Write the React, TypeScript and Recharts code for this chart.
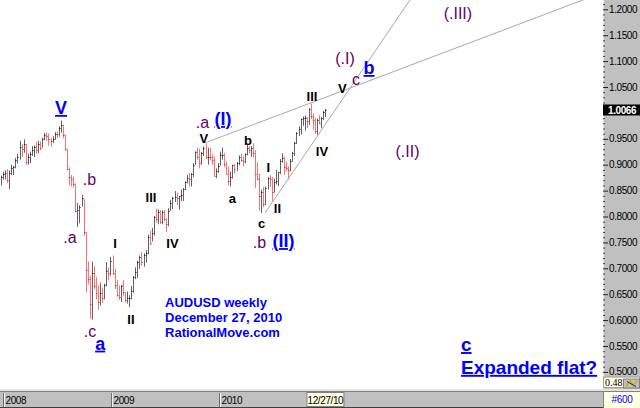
import React from 'react';
import { ComposedChart, Bar, XAxis, YAxis, ReferenceLine, ReferenceDot } from 'recharts';

// Weekly AUDUSD bars, first bar = week of 24 Dec 2007, last = week of 27 Dec 2010
const highs = [
  0.879, 0.886, 0.889, 0.891, 0.889, 0.900, 0.898, 0.913, 0.921, 0.946,
  0.940, 0.949, 0.940, 0.921, 0.925, 0.936, 0.937, 0.944, 0.946, 0.945,
  0.952, 0.961, 0.962, 0.960, 0.952, 0.955, 0.963, 0.964, 0.974, 0.985,
  0.977, 0.958, 0.931, 0.895, 0.880, 0.877, 0.864, 0.826, 0.822, 0.842,
  0.834, 0.770, 0.713, 0.685, 0.713, 0.704, 0.683, 0.667, 0.672, 0.663,
  0.670, 0.712, 0.701, 0.722, 0.725, 0.699, 0.677, 0.667, 0.668, 0.677,
  0.654, 0.655, 0.648, 0.666, 0.685, 0.702, 0.715, 0.725, 0.731, 0.729,
  0.735, 0.765, 0.772, 0.778, 0.801, 0.815, 0.814, 0.812, 0.812, 0.813,
  0.797, 0.816, 0.832, 0.838, 0.849, 0.846, 0.840, 0.852, 0.855, 0.868,
  0.880, 0.884, 0.884, 0.903, 0.926, 0.933, 0.931, 0.925, 0.935, 0.941,
  0.933, 0.933, 0.920, 0.916, 0.893, 0.903, 0.925, 0.933, 0.922, 0.906,
  0.896, 0.887, 0.900, 0.901, 0.905, 0.918, 0.921, 0.916, 0.922, 0.940,
  0.936, 0.936, 0.941, 0.928, 0.905, 0.883, 0.852, 0.857, 0.858, 0.876,
  0.880, 0.876, 0.873, 0.890, 0.886, 0.911, 0.922, 0.916, 0.906, 0.897,
  0.911, 0.925, 0.944, 0.963, 0.974, 0.989, 0.993, 0.995, 0.992, 1.009,
  1.018, 0.999, 0.991, 0.989, 0.996, 0.992, 1.004, 1.008,
];
const lows = [
  0.860, 0.871, 0.872, 0.864, 0.853, 0.880, 0.880, 0.893, 0.903, 0.910,
  0.915, 0.923, 0.900, 0.900, 0.903, 0.917, 0.915, 0.921, 0.922, 0.928,
  0.933, 0.947, 0.946, 0.937, 0.935, 0.942, 0.948, 0.952, 0.954, 0.962,
  0.951, 0.927, 0.890, 0.860, 0.858, 0.856, 0.808, 0.780, 0.787, 0.819,
  0.763, 0.653, 0.669, 0.603, 0.601, 0.660, 0.640, 0.620, 0.628, 0.633,
  0.640, 0.665, 0.677, 0.686, 0.687, 0.660, 0.645, 0.639, 0.635, 0.647,
  0.634, 0.632, 0.625, 0.640, 0.653, 0.679, 0.681, 0.699, 0.705, 0.703,
  0.711, 0.727, 0.745, 0.752, 0.763, 0.789, 0.785, 0.786, 0.785, 0.791,
  0.770, 0.781, 0.811, 0.814, 0.828, 0.822, 0.813, 0.830, 0.830, 0.851,
  0.864, 0.858, 0.858, 0.876, 0.900, 0.910, 0.893, 0.900, 0.917, 0.911,
  0.900, 0.908, 0.900, 0.878, 0.874, 0.884, 0.898, 0.910, 0.895, 0.882,
  0.860, 0.858, 0.873, 0.883, 0.888, 0.899, 0.906, 0.897, 0.903, 0.918,
  0.922, 0.915, 0.914, 0.855, 0.870, 0.811, 0.807, 0.818, 0.822, 0.852,
  0.857, 0.830, 0.846, 0.862, 0.859, 0.882, 0.904, 0.880, 0.887, 0.871,
  0.887, 0.906, 0.917, 0.940, 0.955, 0.958, 0.975, 0.966, 0.971, 0.977,
  0.988, 0.968, 0.960, 0.958, 0.978, 0.971, 0.986, 0.992,
];
const closes = [
  0.876, 0.882, 0.884, 0.870, 0.884, 0.893, 0.895, 0.910, 0.915, 0.935,
  0.930, 0.940, 0.906, 0.915, 0.920, 0.928, 0.934, 0.928, 0.940, 0.933,
  0.949, 0.958, 0.955, 0.950, 0.946, 0.950, 0.960, 0.959, 0.970, 0.976,
  0.957, 0.930, 0.892, 0.876, 0.872, 0.862, 0.810, 0.812, 0.818, 0.836,
  0.770, 0.697, 0.679, 0.631, 0.690, 0.665, 0.652, 0.634, 0.653, 0.643,
  0.668, 0.695, 0.691, 0.714, 0.691, 0.668, 0.648, 0.645, 0.665, 0.654,
  0.639, 0.642, 0.643, 0.657, 0.683, 0.692, 0.713, 0.722, 0.713, 0.726,
  0.730, 0.761, 0.748, 0.768, 0.800, 0.795, 0.809, 0.790, 0.808, 0.795,
  0.785, 0.811, 0.827, 0.835, 0.838, 0.835, 0.839, 0.842, 0.853, 0.866,
  0.875, 0.873, 0.882, 0.899, 0.925, 0.914, 0.903, 0.922, 0.932, 0.915,
  0.915, 0.914, 0.909, 0.879, 0.888, 0.897, 0.918, 0.918, 0.901, 0.883,
  0.868, 0.877, 0.899, 0.892, 0.903, 0.915, 0.910, 0.907, 0.920, 0.932,
  0.929, 0.932, 0.922, 0.883, 0.873, 0.839, 0.847, 0.825, 0.856, 0.875,
  0.873, 0.848, 0.866, 0.868, 0.885, 0.908, 0.913, 0.896, 0.893, 0.890,
  0.908, 0.922, 0.941, 0.962, 0.968, 0.988, 0.990, 0.990, 0.985, 1.008,
  0.995, 0.986, 0.966, 0.987, 0.980, 0.990, 1.002, 1.0066,
];

const lastPrice = 1.0066;
const cursorPrice = 0.4872;
const majorPriceTicks = [0.5, 0.55, 0.6, 0.65, 0.7, 0.75, 0.8, 0.85, 0.9, 0.95, 1.0, 1.05, 1.1, 1.15, 1.2];
const xTickWeeks = [1.14, 53.43, 105.57, 157];
const xTickLabels = ['2008', '2009', '2010', '12/27/10'];

// wave annotations, positioned in (week index, price) units
type Ann = { t: string; i: number; p: number; kind: 'blue' | 'purple' | 'black' | 'bigblue'; anchor?: string };
const annotations: Ann[] = [
  { t: 'V', i: 29.1, p: 0.998, kind: 'blue' },
  { t: '.b', i: 42.8, p: 0.861, kind: 'purple' },
  { t: '.a', i: 33.4, p: 0.749, kind: 'purple' },
  { t: '.c', i: 43.1, p: 0.568, kind: 'purple' },
  { t: 'a', i: 48.0, p: 0.543, kind: 'blue' },
  { t: 'I', i: 55.2, p: 0.739, kind: 'black' },
  { t: 'II', i: 62.9, p: 0.5925, kind: 'black' },
  { t: 'III', i: 72.6, p: 0.828, kind: 'black' },
  { t: 'IV', i: 83.0, p: 0.739, kind: 'black' },
  { t: 'V', i: 98.2, p: 0.942, kind: 'black' },
  { t: '.a', i: 97.5, p: 0.971, kind: 'purple' },
  { t: '(I)', i: 107.4, p: 0.9766, kind: 'blue' },
  { t: 'b', i: 119.5, p: 0.938, kind: 'black' },
  { t: 'a', i: 112.0, p: 0.826, kind: 'black' },
  { t: 'I', i: 129.4, p: 0.886, kind: 'black' },
  { t: 'c', i: 126.1, p: 0.778, kind: 'black' },
  { t: 'II', i: 133.8, p: 0.807, kind: 'black' },
  { t: '.b', i: 125.1, p: 0.739, kind: 'purple' },
  { t: '(II)', i: 136.7, p: 0.741, kind: 'blue' },
  { t: 'III', i: 150.5, p: 1.023, kind: 'black' },
  { t: 'IV', i: 155.3, p: 0.917, kind: 'black' },
  { t: 'V', i: 165.2, p: 1.0384, kind: 'black' },
  { t: 'c', i: 171.8, p: 1.0539, kind: 'purple' },
  { t: '(.I)', i: 166.5, p: 1.0944, kind: 'purple' },
  { t: 'b', i: 178.1, p: 1.0751, kind: 'blue' },
  { t: '(.II)', i: 196.7, p: 0.915, kind: 'purple' },
  { t: '(.III)', i: 221.1, p: 1.1813, kind: 'purple' },
  { t: 'c', i: 222.6, p: 0.5403, kind: 'bigblue', anchor: 'start' },
  { t: 'Expanded flat?', i: 222.6, p: 0.4962, kind: 'bigblue', anchor: 'start' },
];
const noteLines = ['AUDUSD weekly', 'December 27, 2010', 'RationalMove.com'];
const notePos = { i: 79.4, p: 0.6253 };

// Elliott trend lines (week index, price)
const upperLine = [{ x: 98.7, y: 0.942 }, { x: 300, y: 1.2458 }];
const lowerLine = [{ x: 127.8, y: 0.8068 }, { x: 205, y: 1.2597 }];

const data = highs.map((h, k) => ({
  i: k,
  range: [lows[k], h],
  high: h,
  low: lows[k],
  close: closes[k],
  up: k === 0 ? true : closes[k] >= closes[k - 1],
}));

const FONT = '"Liberation Sans", Arial, sans-serif';

const BarShape = (props: any) => {
  const { x, y, width, height, payload } = props;
  if (x == null || y == null) return null;
  const cx = Math.round(x + width / 2) + 0.5;
  const { high, low, close, up } = payload;
  const cy = Math.round(y + ((high - close) / (high - low)) * height) + 0.5;
  const color = up ? '#626262' : '#ff7070';
  return (
    <g>
      <line x1={cx} x2={cx} y1={y} y2={y + height} stroke={color} strokeWidth={1} />
      <line x1={cx} x2={cx + 1} y1={cy} y2={cy} stroke={up ? '#000' : '#d00'} strokeWidth={1} />
    </g>
  );
};

const YTick = (props: any) => {
  const { y, payload } = props;
  const v = payload.value;
  if (v === lastPrice) {
    return (
      <g>
        <rect x={603} y={y - 5} width={37} height={11} fill="#000" />
        <text x={608} y={y + 4} fontSize={10} fontWeight="bold" fill="#fff" fontFamily={FONT} letterSpacing={-0.4}>
          {v.toFixed(4)}
        </text>
      </g>
    );
  }
  if (v === cursorPrice) {
    return (
      <g>
        <rect x={603.5} y={y - 1.5} width={36} height={10.5} fill="#ffffe1" stroke="#a0a0a0" />
        <text x={605} y={y + 7} fontSize={10} fill="#000" fontFamily="serif">
          {v.toFixed(4)}
        </text>
        <rect x={623.5} y={y + 0.5} width={16} height={9} fill="#c0c0c0" stroke="#808080" />
        <path d={`M626 ${y + 8} L630 ${y + 2} L633 ${y + 7} L637 ${y + 2}`} stroke="#c8b400" fill="none" strokeWidth={1.5} />
        <path d={`M627 ${y + 3} L636 ${y + 8}`} stroke="#333" fill="none" strokeWidth={1} />
      </g>
    );
  }
  const major = majorPriceTicks.includes(v);
  if (!major) {
    return <line x1={603} x2={605} y1={y + 0.5} y2={y + 0.5} stroke="#404040" />;
  }
  const hidden = Math.abs(v - lastPrice) < 0.012;
  return (
    <g>
      <line x1={603} x2={608} y1={y + 0.5} y2={y + 0.5} stroke="#202020" />
      {!hidden && (
        <text x={609} y={y + 3.5} fontSize={10} fill="#000" fontFamily={FONT} letterSpacing={-0.4}>
          {v.toFixed(4)}
        </text>
      )}
    </g>
  );
};

const XTick = (props: any) => {
  const { x, index } = props;
  const label = xTickLabels[index];
  if (index === xTickLabels.length - 1) {
    return (
      <g>
        <rect x={x - 18.5} y={392.5} width={37} height={14} fill="#ffffe1" stroke="#808080" />
        <text x={x} y={403.5} fontSize={10} textAnchor="middle" fill="#000" fontFamily={FONT} letterSpacing={-0.4}>
          {label}
        </text>
      </g>
    );
  }
  const lx = Math.round(x) + 0.5;
  return (
    <g>
      <line x1={lx} x2={lx} y1={393} y2={407} stroke="#707070" />
      <line x1={lx + 1} x2={lx + 1} y1={393} y2={407} stroke="#f0f0f0" />
      <text x={lx + 2} y={404} fontSize={10} fill="#000" fontFamily={FONT} letterSpacing={-0.4}>
        {label}
      </text>
    </g>
  );
};

const styleFor = (kind: Ann['kind']) => {
  switch (kind) {
    case 'blue':
      return { fill: '#0000ff', fontSize: 18, fontWeight: 'bold', underline: true };
    case 'bigblue':
      return { fill: '#0000ff', fontSize: 19, fontWeight: 'bold', underline: true };
    case 'purple':
      return { fill: '#660066', fontSize: 16, fontWeight: 'normal', underline: false };
    default:
      return { fill: '#000000', fontSize: 13, fontWeight: 'bold', underline: false };
  }
};

const makeLabel = (a: Ann) => (props: any) => {
  const { cx, cy } = props;
  const s = styleFor(a.kind);
  return (
    <text
      x={cx}
      y={cy}
      textAnchor={a.anchor || 'middle'}
      fontSize={s.fontSize}
      fontWeight={s.fontWeight}
      fill={s.fill}
      fontFamily={FONT}
      textDecoration={s.underline ? 'underline' : undefined}
    >
      {a.t}
    </text>
  );
};

const NoteShape = (props: any) => {
  const { cx, cy } = props;
  return (
    <text x={cx} y={cy} fontSize={13} fontWeight="bold" fill="#0000ff" fontFamily={FONT}>
      {noteLines.map((l, k) => (
        <tspan key={k} x={cx} dy={k === 0 ? 0 : 15}>
          {l}
        </tspan>
      ))}
    </text>
  );
};

const minorTicks: number[] = [];
for (let k = 48; k <= 121; k++) {
  const v = k / 100;
  if (!majorPriceTicks.some((m) => Math.abs(m - v) < 1e-9)) minorTicks.push(v);
}
const yTicks = [...minorTicks, ...majorPriceTicks, cursorPrice, lastPrice];

export default function App() {
  return (
    <div style={{ position: 'absolute', left: 0, top: 0, width: 640, height: 408, background: '#fff', overflow: 'hidden' }}>
      <div style={{ position: 'absolute', left: 603, top: 0, width: 37, height: 389, background: '#c0c0c0', borderLeft: '1px solid #e8e8e8', boxSizing: 'border-box' }} />
      <div style={{ position: 'absolute', left: 0, top: 389, width: 640, height: 2, background: '#e4e4e4' }} />
      <div style={{ position: 'absolute', left: 0, top: 391, width: 603, height: 17, background: '#c0c0c0', borderTop: '1px solid #808080', borderBottom: '1px solid #404040', boxSizing: 'border-box' }} />
      <div style={{ position: 'absolute', left: 603, top: 391, width: 37, height: 17, background: '#ffffe1', borderTop: '1px solid #808080', borderLeft: '1px solid #808080', boxSizing: 'border-box', color: '#0000ff', fontFamily: FONT, fontSize: 10, textAlign: 'center', lineHeight: '15px', letterSpacing: -0.3 }}>
        #600
      </div>
      <div style={{ position: 'absolute', left: 0, top: 0 }}>
        <ComposedChart width={640} height={408} data={data} margin={{ top: 0, right: 0, bottom: 0, left: 0 }}>
          <XAxis
            dataKey="i"
            type="number"
            domain={[-0.455, 291.3]}
            allowDataOverflow
            ticks={xTickWeeks}
            interval={0}
            height={19}
            tickLine={false}
            axisLine={false}
            tick={<XTick />}
          />
          <YAxis
            orientation="right"
            type="number"
            domain={[0.467, 1.218]}
            allowDataOverflow
            ticks={yTicks}
            interval={0}
            width={37}
            tickLine={false}
            axisLine={false}
            tickSize={0}
            tickMargin={0}
            tick={<YTick />}
          />
          <Bar dataKey="range" barSize={2} shape={<BarShape />} isAnimationActive={false} />
          <ReferenceLine segment={upperLine} stroke="#a8a8a8" strokeWidth={1} ifOverflow="hidden" />
          <ReferenceLine segment={lowerLine} stroke="#a8a8a8" strokeWidth={1} ifOverflow="hidden" />
          {annotations.map((a, k) => (
            <ReferenceDot key={k} x={a.i} y={a.p} r={0} ifOverflow="visible" shape={makeLabel(a)} />
          ))}
          <ReferenceDot x={notePos.i} y={notePos.p} r={0} ifOverflow="visible" shape={<NoteShape />} />
        </ComposedChart>
      </div>
    </div>
  );
}
